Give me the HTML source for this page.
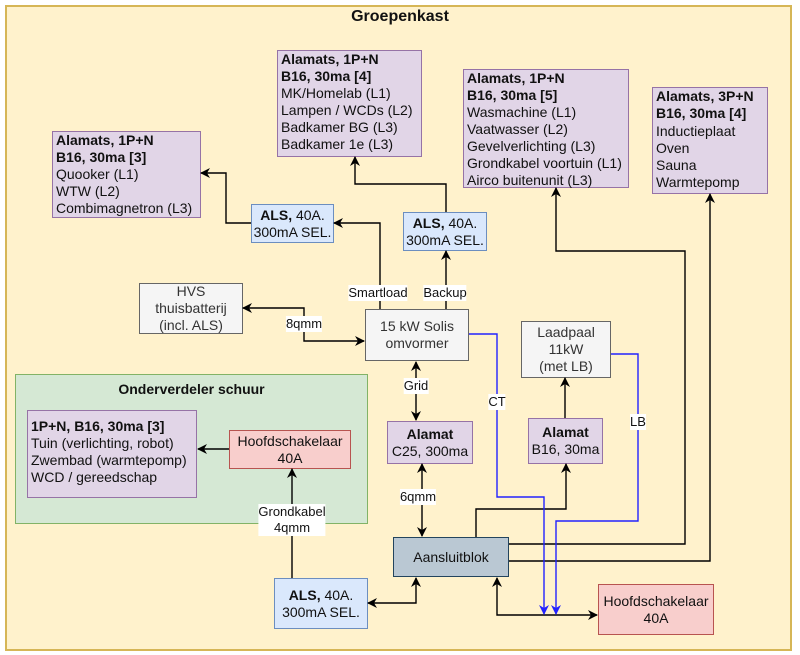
<!DOCTYPE html>
<html><head><meta charset="utf-8"><style>
body{margin:0;width:800px;height:655px;background:#fff;position:relative;overflow:hidden;font-family:"Liberation Sans",Arial,sans-serif;color:#111}
.b{position:absolute;box-sizing:border-box;border:1.5px solid;font-size:14px;line-height:17px}
.p{background:#e1d5e7;border-color:#9673a6;padding:0 0 0 3px}
.c{display:flex;flex-direction:column;justify-content:center;align-items:center;text-align:center}
.g{background:#f5f5f5;border-color:#666;color:#333}
.bl{background:#dae8fc;border-color:#6c8ebf}
.r{background:#f8cecc;border-color:#b85450}
svg{position:absolute;left:0;top:0}
.l{position:absolute;background:#fff;font-size:13px;line-height:16px;text-align:center;transform:translate(-50%,-50%);white-space:nowrap}
</style></head><body>
<div class="b" style="left:5px;top:5px;width:787px;height:646px;background:#fff2cc;border-color:#d6b656;border-width:2px"></div>
<div style="position:absolute;left:0;width:800px;top:8px;text-align:center;font-weight:bold;font-size:16px">Groepenkast</div>
<div class="b" style="left:15px;top:374px;width:353px;height:150px;background:#d5e8d4;border-color:#82b366"></div>
<div style="position:absolute;left:15px;width:353px;top:381px;text-align:center;font-weight:bold;font-size:14px">Onderverdeler schuur</div>

<div class="b p" style="left:277px;top:50px;width:145px;height:107px"><b>Alamats, 1P+N<br>B16, 30ma [4]</b><br>MK/Homelab (L1)<br>Lampen / WCDs (L2)<br>Badkamer BG (L3)<br>Badkamer 1e (L3)</div>
<div class="b p" style="left:52px;top:131px;width:149px;height:87px"><b>Alamats, 1P+N<br>B16, 30ma [3]</b><br>Quooker (L1)<br>WTW (L2)<br>Combimagnetron (L3)</div>
<div class="b p" style="left:463px;top:69px;width:166px;height:119px"><b>Alamats, 1P+N<br>B16, 30ma [5]</b><br>Wasmachine (L1)<br>Vaatwasser (L2)<br>Gevelverlichting (L3)<br>Grondkabel voortuin (L1)<br>Airco buitenunit (L3)</div>
<div class="b p" style="left:652px;top:87px;width:116px;height:107px;line-height:17.3px"><b>Alamats, 3P+N<br>B16, 30ma [4]</b><br>Inductieplaat<br>Oven<br>Sauna<br>Warmtepomp</div>
<div class="b p" style="left:27px;top:410px;width:170px;height:88px;padding-top:7px"><b>1P+N, B16, 30ma [3]</b><br>Tuin (verlichting, robot)<br>Zwembad (warmtepomp)<br>WCD / gereedschap</div>

<div class="b bl c" style="left:251px;top:204px;width:83px;height:39px"><div><b>ALS,</b> 40A.<br>300mA SEL.</div></div>
<div class="b bl c" style="left:403px;top:212px;width:84px;height:39px"><div><b>ALS,</b> 40A.<br>300mA SEL.</div></div>
<div class="b bl c" style="left:274px;top:578px;width:94px;height:51px"><div><b>ALS,</b> 40A.<br>300mA SEL.</div></div>
<div class="b g c" style="left:139px;top:283px;width:104px;height:51px"><div>HVS<br>thuisbatterij<br>(incl. ALS)</div></div>
<div class="b g c" style="left:365px;top:309px;width:104px;height:52px"><div>15 kW Solis<br>omvormer</div></div>
<div class="b g c" style="left:521px;top:321px;width:90px;height:57px"><div>Laadpaal<br>11kW<br>(met LB)</div></div>
<div class="b p c" style="left:387px;top:421px;width:86px;height:43px;padding:0"><div><b>Alamat</b><br>C25, 300ma</div></div>
<div class="b p c" style="left:528px;top:418px;width:75px;height:46px;padding:0"><div><b>Alamat</b><br>B16, 30ma</div></div>
<div class="b c" style="left:393px;top:537px;width:116px;height:40px;background:#bac8d3;border-color:#23445d"><div>Aansluitblok</div></div>
<div class="b r c" style="left:598px;top:584px;width:116px;height:51px"><div>Hoofdschakelaar<br>40A</div></div>
<div class="b r c" style="left:229px;top:430px;width:122px;height:39px"><div>Hoofdschakelaar<br>40A</div></div>

<svg width="800" height="655" viewBox="0 0 800 655">
<defs>
<marker id="a" markerWidth="10" markerHeight="10" refX="9" refY="5" orient="auto" markerUnits="userSpaceOnUse"><path d="M0,0 L10,5 L0,10 L3,5 z" fill="#000"/></marker>
<marker id="s" markerWidth="10" markerHeight="10" refX="1" refY="5" orient="auto" markerUnits="userSpaceOnUse"><path d="M10,0 L0,5 L10,10 L7,5 z" fill="#000"/></marker>
<marker id="ab" markerWidth="10" markerHeight="10" refX="9" refY="5" orient="auto" markerUnits="userSpaceOnUse"><path d="M0,0 L10,5 L0,10 L3,5 z" fill="#22f"/></marker>
</defs>
<g fill="none" stroke="#000" stroke-width="1.4">
<path d="M251,223 H226 V173 H201" marker-end="url(#a)"/>
<path d="M380,309 V223 H334" marker-end="url(#a)"/>
<path d="M446,309 V251" marker-end="url(#a)"/>
<path d="M446,212 V184 H355 V157" marker-end="url(#a)"/>
<path d="M364,341 H304 V308 H243" marker-start="url(#s)" marker-end="url(#a)"/>
<path d="M416,362 V420" marker-start="url(#s)" marker-end="url(#a)"/>
<path d="M422,464 V536" marker-start="url(#s)" marker-end="url(#a)"/>
<path d="M476,537 V509 H566 V464" marker-end="url(#a)"/>
<path d="M565,418 V378" marker-end="url(#a)"/>
<path d="M509,544 H685 V251 H556 V188" marker-end="url(#a)"/>
<path d="M509,561 H710 V194" marker-end="url(#a)"/>
<path d="M497,578 V615 H597" marker-start="url(#s)" marker-end="url(#a)"/>
<path d="M416,578 V603 H368" marker-start="url(#s)" marker-end="url(#a)"/>
<path d="M292,578 V469" marker-end="url(#a)"/>
<path d="M229,449 H198" marker-end="url(#a)"/>
</g>
<g fill="none" stroke="#22f" stroke-width="1.4">
<path d="M469,334 H497 V497 H544 V614" marker-end="url(#ab)"/>
<path d="M611,354 H638 V521 H556 V614" marker-end="url(#ab)"/>
</g>
</svg>
<div class="l" style="left:378px;top:293px">Smartload</div>
<div class="l" style="left:445px;top:293px">Backup</div>
<div class="l" style="left:304px;top:324px">8qmm</div>
<div class="l" style="left:416px;top:386px">Grid</div>
<div class="l" style="left:418px;top:497px">6qmm</div>
<div class="l" style="left:497px;top:402px">CT</div>
<div class="l" style="left:638px;top:422px">LB</div>
<div class="l" style="left:292px;top:520px">Grondkabel<br>4qmm</div>
</body></html>
